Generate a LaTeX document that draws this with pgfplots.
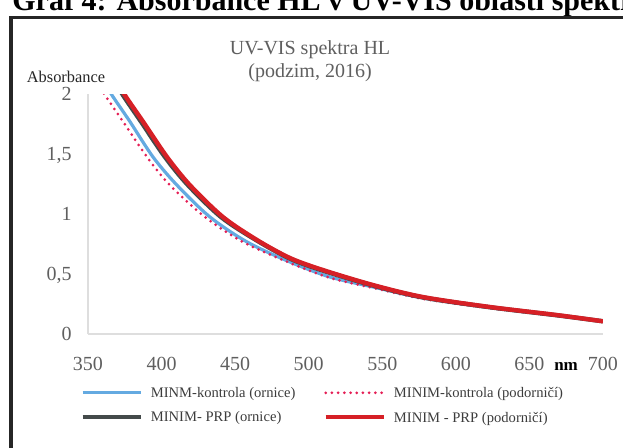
\documentclass[border=0pt]{standalone}
\usepackage{fontspec}
\setmainfont{Liberation Serif}
\usepackage{pgfplots}
\pgfplotsset{compat=1.18}
\definecolor{cblue}{RGB}{100,170,225}
\definecolor{cdot}{RGB}{228,30,85}
\definecolor{cgray}{RGB}{68,74,74}
\definecolor{cred}{RGB}{214,32,38}
\definecolor{tgray}{RGB}{95,95,95}
\definecolor{lgray}{RGB}{60,60,60}
\pgfplotstableread{
x y
356 2.19
366.3 1.99
378.5 1.77
394.2 1.475
410.5 1.24
432.9 0.975
458.1 0.767
487.3 0.600
514.5 0.475
543.7 0.392
577.7 0.300
623.2 0.220
668.7 0.154
700 0.106
}\blueT
\pgfplotstableread{
x y
352 2.18
361.6 1.99
373.8 1.77
390.1 1.475
405.7 1.24
429.5 0.975
455.3 0.767
487.3 0.592
514.5 0.468
543.7 0.385
577.7 0.293
623.2 0.216
668.7 0.152
700 0.105
}\dotT
\pgfplotstableread{
x y
364 2.19
373.8 1.99
386.0 1.77
402.3 1.475
418.0 1.24
440.4 0.975
464.2 0.783
487.3 0.628
509.7 0.528
543.7 0.404
577.7 0.305
623.2 0.223
668.7 0.156
700 0.106
}\grayT
\pgfplotstableread{
x y
365.5 2.19
375.1 1.99
387.4 1.77
403.7 1.475
419.3 1.24
441.7 0.975
464.9 0.783
487.3 0.633
509.7 0.533
543.7 0.408
577.7 0.308
623.2 0.225
668.7 0.158
700 0.106
}\redT
\begin{document}
\begin{tikzpicture}
\path[use as bounding box] (0,0) rectangle (311.5pt,-223.5pt);
\begin{scope}
\clip (0,0) rectangle (311.5pt,-223.5pt);
\node[anchor=base west, inner sep=0pt, font=\fontsize{15}{18}\selectfont\bfseries] at (6pt,-5pt) {Graf 4: Absorbance HL v UV-VIS oblasti spektra};
\draw[line width=1.5pt, black!85] (5.5pt,-240pt) -- (5.5pt,-8.5pt) -- (330pt,-8.5pt);
\end{scope}
\node[inner sep=0pt, font=\fontsize{10}{12}\selectfont, text=tgray] at (155pt,-25pt) {UV-VIS spektra HL};
\node[inner sep=0pt, font=\fontsize{10}{12}\selectfont, text=tgray] at (155pt,-36.5pt) {(podzim, 2016)};
\node[inner sep=0pt, font=\fontsize{8.2}{10}\selectfont, text=black!85] at (33pt,-38.3pt) {Absorbance};
\begin{axis}[
  scale only axis, width=257.5pt, height=120pt,
  at={(44pt,-167pt)}, anchor=south west,
  xmin=350, xmax=700, ymin=0, ymax=2,
  xtick={350,400,450,500,550,600,650,700},
  extra x ticks={674.9},
  extra x tick labels={\fontsize{8.5}{10}\selectfont\textbf{nm}},
  extra x tick style={xticklabel style={text=black}},
  ytick={0,0.5,1,1.5,2},
  /pgf/number format/assume math mode=true,
  /pgf/number format/use comma,
  /pgf/number format/1000 sep={},
  major tick length=0pt,
  axis x line*=bottom, axis y line*=left,
  axis line style={black!13, line width=0.7pt},
  tick label style={font=\fontsize{10}{12}\selectfont, text=tgray},
  xticklabel style={anchor=base, inner sep=0pt, yshift=-18pt},
  yticklabel style={anchor=base east, inner sep=0pt, xshift=-8pt, yshift=-3.3pt},
  clip=true,
  legend columns=2,
  legend cell align=left,
  legend style={draw=none, fill=none, at={(axis description cs:-0.0155,-0.222)}, anchor=north west, inner sep=0pt,
    font=\fontsize{7.3}{8.6}\selectfont, text=lgray, nodes={inner sep=0pt, text depth=0pt},
    row sep=7pt,
    /tikz/every odd column/.append style={column sep=4pt},
    /tikz/every even column/.append style={column sep=14pt}},
  legend image code/.code={\draw[#1] (0pt,0pt) -- (29pt,0pt);},
]
\addplot[cblue, line width=1.6pt, smooth, tension=0.5] table[x=x,y=y] {\blueT};
\addlegendentry{MINM-kontrola (ornice)}
\addplot[cdot, line width=1.5pt, dash pattern=on 0pt off 3.1pt, line cap=round, smooth, tension=0.5] table[x=x,y=y] {\dotT};
\addlegendentry{MINIM-kontrola (podorničí)}
\addplot[cgray, line width=2.2pt, smooth, tension=0.5] table[x=x,y=y] {\grayT};
\addlegendentry{MINIM- PRP (ornice)}
\addplot[cred, line width=2.2pt, smooth, tension=0.5] table[x=x,y=y] {\redT};
\addlegendentry{MINIM - PRP (podorničí)}
\end{axis}
\end{tikzpicture}
\end{document}
